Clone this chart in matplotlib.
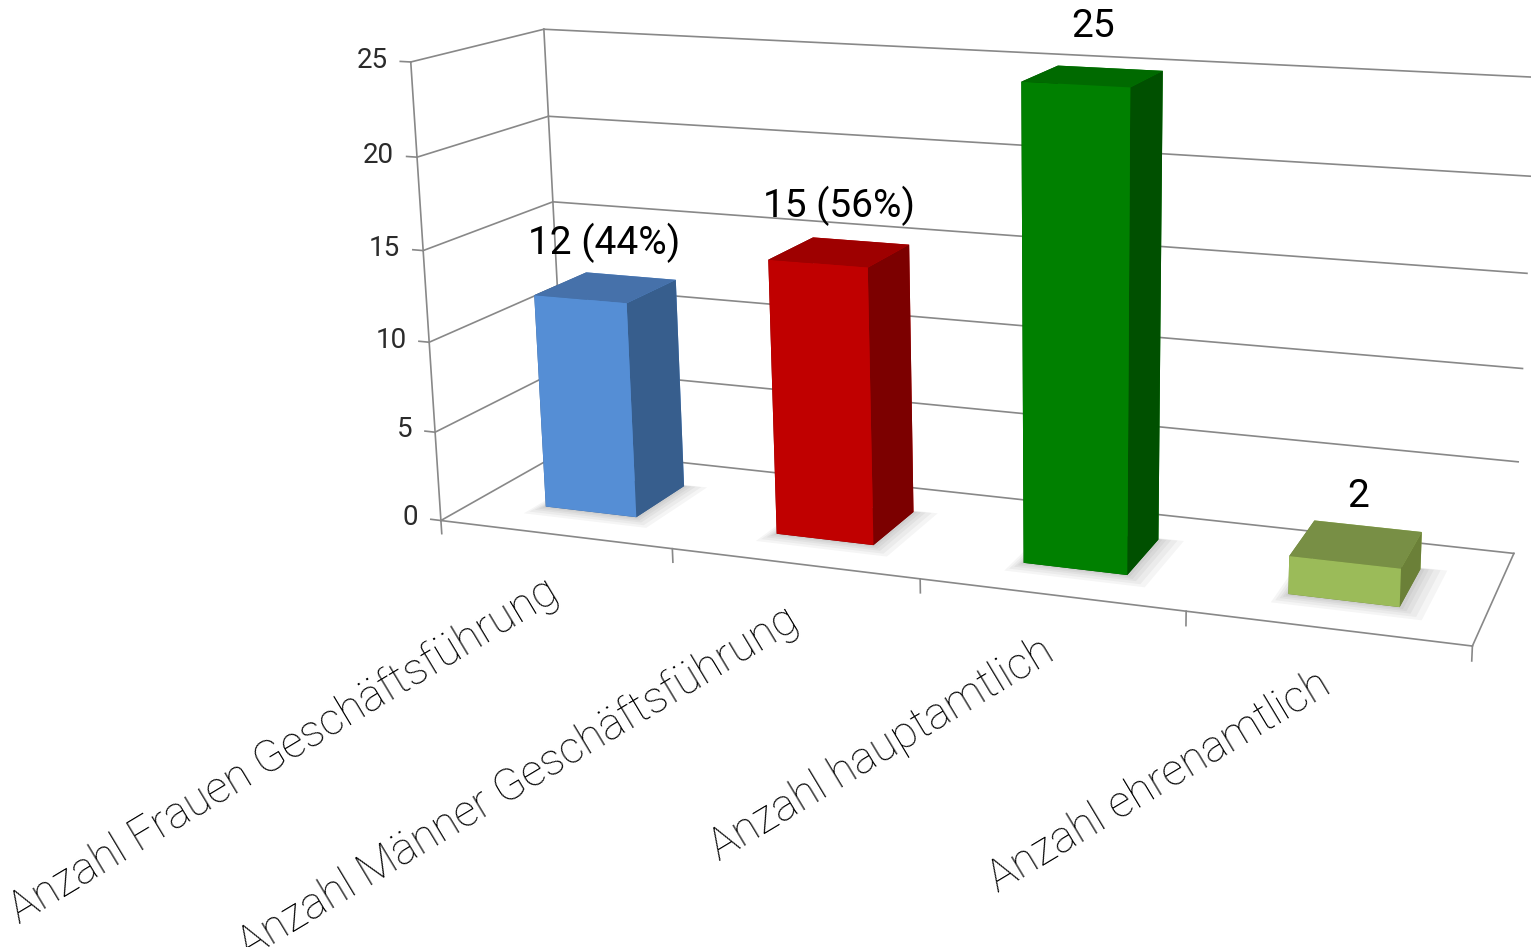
import numpy as np
import matplotlib
matplotlib.use('Agg')
import matplotlib.pyplot as plt
from matplotlib.transforms import offset_copy
from mpl_toolkits.mplot3d import proj3d
from mpl_toolkits.mplot3d.art3d import Poly3DCollection

categories = ['Anzahl Frauen Geschäftsführung', 'Anzahl Männer Geschäftsführung',
              'Anzahl hauptamtlich', 'Anzahl ehrenamtlich']
values = [12, 15, 25, 2]
value_labels = ['12 (44%)', '15 (56%)', '25', '2']
z_ticks = [0, 5, 10, 15, 20, 25]

front_colors = ['#558ED5', '#C00000', '#008000', '#9BBB59']
side_colors = ['#375E8D', '#7C0000', '#005000', '#6B8038']
top_colors = ['#4671AA', '#9E0000', '#006A00', '#788F45']

plt.rcParams['font.family'] = ['Roboto', 'DejaVu Sans']

fig = plt.figure(figsize=(15.31, 9.47), dpi=100)
# big square axes, its centre sits on the camera's principal point
ax = fig.add_axes([-0.0396, -0.496, 1.437, 2.323], projection='3d')
ax.computed_zorder = False
zoom = 0.642
depth = 0.95  # floor depth, one category = 1
ax.set_proj_type('persp', focal_length=0.315 * zoom)
ax.view_init(elev=13.8, azim=-71.5, roll=0)

n = len(categories)
ax.set_xlim(0, 4.82)
ax.set_ylim(0, 1)
ax.set_zlim(0, 28.2)
ax.set_box_aspect((4.82, depth, 2.019), zoom=zoom)
ax.set_axis_off()

grid_col = '#888888'
lw = 1.2
# back wall and left wall gridlines
for t in z_ticks:
    ax.plot([0, n], [1, 1], [t, t], color=grid_col, lw=lw, zorder=1)
    ax.plot([0, 0], [0, 1], [t, t], color=grid_col, lw=lw, zorder=1)
    ax.plot([0, -0.045], [0, 0], [t, t], color=grid_col, lw=lw, zorder=1)
ax.plot([0, 0], [0, 0], [0, 25], color=grid_col, lw=lw, zorder=1)
ax.plot([0, 0], [1, 1], [0, 25], color=grid_col, lw=lw, zorder=1)
# floor outline and category ticks
ax.plot([0, n], [0, 0], [0, 0], color=grid_col, lw=lw, zorder=1)
ax.plot([n, n], [0, 1], [0, 0], color=grid_col, lw=lw, zorder=1)
for i in range(n + 1):
    ax.plot([i, i], [0, 0], [0, -0.75], color=grid_col, lw=lw, zorder=1)

bw = 0.4
bd = 0.4 / depth
y0 = 0.5 - bd / 2
xs = np.arange(n) + 0.5 - bw / 2

# soft shadows on the floor
for grow in [0.08, 0.06, 0.04, 0.025, 0.012]:
    polys = []
    for x0 in xs:
        xa, xb = x0 - grow * 0.5, x0 + bw + grow * 1.2
        ya, yb = y0 - grow * 1.3, y0 + bd + grow * 0.2
        polys.append([(xa, ya, 0), (xb, ya, 0), (xb, yb, 0), (xa, yb, 0)])
    ax.add_collection3d(Poly3DCollection(polys, facecolor='#000000',
                                         edgecolor='none', alpha=0.04,
                                         zorder=2))

# bars: faces are bottom, top, front, back, left, right
face_cols = []
for i in range(n):
    face_cols += [side_colors[i], top_colors[i], front_colors[i],
                  front_colors[i], side_colors[i], side_colors[i]]
bars = ax.bar3d(xs, np.full(n, y0), np.zeros(n), bw, bd, values,
                color=face_cols, shade=False, edgecolor='none')
bars.set_zorder(3)

# texts are placed in 2d at the projected points
fig.canvas.draw()
M = ax.get_proj()
for t in z_ticks:
    px, py, _ = proj3d.proj_transform(-0.1, 0, t, M)
    ax.text2D(px, py, str(t), transform=ax.transData, ha='right',
              va='center', fontsize=20, color='#2b2b2b', zorder=5)
for i in range(n):
    px, py, _ = proj3d.proj_transform(i + 0.5, 0.5, values[i] + 2.5, M)
    ax.text2D(px, py, value_labels[i], transform=ax.transData, ha='center',
              va='center', fontsize=28, color='black', zorder=6)
label_tr = offset_copy(ax.transData, fig=fig, x=-11, y=-35, units='dots')
for i in range(n):
    px, py, _ = proj3d.proj_transform(i + 0.5, 0, 0, M)
    ax.text2D(px, py, categories[i], transform=label_tr, ha='right',
              va='top', rotation=31, rotation_mode='anchor', fontsize=32,
              fontweight='light', color='black')

fig.savefig('out.png', dpi=100)
